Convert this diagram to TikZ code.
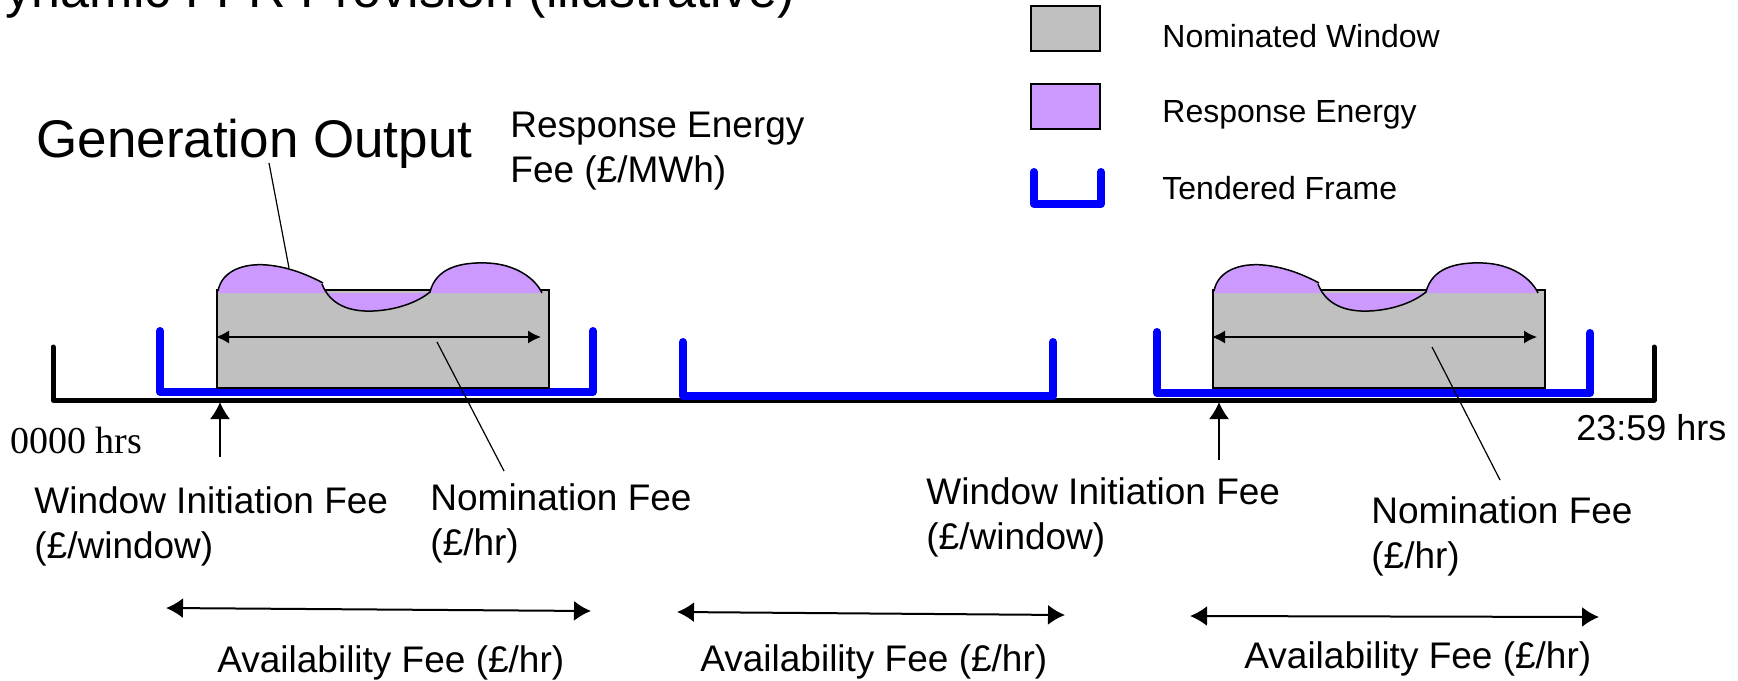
\documentclass[tikz,border=0pt]{standalone}
\usepackage{fontspec}
\setmainfont{Liberation Sans}
\newfontfamily\serifhrs{Liberation Serif}
\usetikzlibrary{arrows.meta}
\definecolor{nomgray}{HTML}{C0C0C0}
\definecolor{resppurple}{HTML}{CC99FF}
\definecolor{tenderblue}{HTML}{0000FF}
\tikzset{
    tframe/.style={tenderblue,line width=4pt,line cap=round,line join=round},
    feelabel/.style={inner sep=0pt,anchor=north west,align=left,font=\fontsize{18.5}{22.5}\selectfont},
    keylabel/.style={inner sep=0pt,anchor=base west,font=\fontsize{16}{19}\selectfont},
    leader/.style={line width=0.6pt},
}
\begin{document}
\begin{tikzpicture}[x=0.5pt,y=-0.5pt,>={Latex[length=8.5pt,width=10pt]}]
    \useasboundingbox(0,0)rectangle(1738,680);
    \clip(0,0)rectangle(1738,680);
    \node[inner sep=0pt,anchor=base west,font=\fontsize{26}{30}\selectfont](title)at(-32,8){Dynamic FFR Provision (illustrative)};
    % legend
    \draw[fill=nomgray,line width=0.8pt](1031,6)rectangle(1100,51);
    \draw[fill=resppurple,line width=0.8pt](1031,84)rectangle(1100,129);
    \draw[tframe](1034,172)--(1034,204)--(1101,204)--(1101,172);
    \node[keylabel](keynom)at(1162,47){Nominated Window};
    \node[keylabel](keyresp)at(1162,122){Response Energy};
    \node[keylabel](keyframe)at(1162,199){Tendered Frame};
    % time line and tendered frames
    \draw[line width=2.5pt,line cap=round,line join=round](53,347)--(53,400)--(1654,400)--(1654,347);
    \draw[tframe](160,331)--(160,392)--(593,392)--(593,331);
    \draw[tframe](683,342)--(683,396)--(1053,396)--(1053,342);
    \draw[tframe](1157,332)--(1157,393)--(1590,393)--(1590,333);
    \foreach \dx in {0,996}{
        \begin{scope}[shift={(\dx,0)}]
            \draw[fill=nomgray,line width=0.75pt](217,290)rectangle(549,388);
            \fill[resppurple](218,293)..controls(222,270)and(245,263)..(267,265)..controls(290,267)and(310,276)..(323,283)
                --(322,285)..controls(330,305)and(350,312)..(373,311)..controls(397,310)and(418,302)..(430,292)
                ..controls(436,268)and(460,262)..(487,263)..controls(515,264)and(535,278)..(542,293)--cycle;
            \draw[line width=0.75pt](218,291)..controls(222,270)and(245,263)..(267,265)..controls(290,267)and(310,276)..(323,283);
            \draw[line width=0.75pt](322,284)..controls(330,305)and(350,312)..(373,311)..controls(397,310)and(418,302)..(430,292)
                ..controls(436,268)and(460,262)..(487,263)..controls(515,264)and(535,278)..(542,293);
            \draw[line width=0.75pt,{Latex[length=6.5pt,width=6.5pt]}-{Latex[length=6.5pt,width=6.5pt]}](216,337)--(541,337);
        \end{scope}
    }
    \node[inner sep=0pt,anchor=base west,font=\fontsize{26.5}{30}\selectfont](genout)at(36,157){Generation Output};
    \node[feelabel](respfee)at(510,111.5){Response Energy\\Fee (£/MWh)};
    \coordinate(genfoot)at(269,163);
    \coordinate(genhead)at(289,268);
    \draw[leader](genfoot)--(genhead);
    \node[inner sep=0pt,anchor=base west,font=\serifhrs\fontsize{19}{22}\selectfont](zerohrs)at(10,453){0000 hrs};
    \node[inner sep=0pt,anchor=base west,font=\fontsize{18}{22}\selectfont](endhrs)at(1576,440){23:59 hrs};
    % fees
    \node[feelabel](winit1)at(34,486.5){Window Initiation Fee\\(£/window)};
    \node[feelabel](nomfee1)at(430,483.5){Nomination Fee\\(£/hr)};
    \node[feelabel](winit2)at(926,477.5){Window Initiation Fee\\(£/window)};
    \node[feelabel](nomfee2)at(1371,496.5){Nomination Fee\\(£/hr)};
    \coordinate(wtail1)at(220,457);
    \coordinate(wtip1)at(220,402);
    \coordinate(wtail2)at(1219,460);
    \coordinate(wtip2)at(1219,402);
    \draw[line width=0.75pt,->](wtail1)--(wtip1);
    \draw[line width=0.75pt,->](wtail2)--(wtip2);
    \coordinate(nomin1)at(437,342);
    \coordinate(nomout1)at(504,471);
    \coordinate(nomin2)at(1432,347);
    \coordinate(nomout2)at(1500,480);
    \draw[leader](nomin1)--(nomout1);
    \draw[leader](nomin2)--(nomout2);
    \foreach \l/\r/\yl/\yr/\n in {166/591/608/611/1,677/1065/612/615/2,1190/1599/616/617/3}{
        \coordinate(avl\n)at(\l,\yl);
        \coordinate(avr\n)at(\r,\yr);
        \draw[line width=1pt,<->](avl\n)--(avr\n);
    }
    \node[feelabel,anchor=base west](avail1)at(217,672){Availability Fee (£/hr)};
    \node[feelabel,anchor=base west](avail2)at(700,671){Availability Fee (£/hr)};
    \node[feelabel,anchor=base west](avail3)at(1244,668){Availability Fee (£/hr)};
\end{tikzpicture}
\end{document}
